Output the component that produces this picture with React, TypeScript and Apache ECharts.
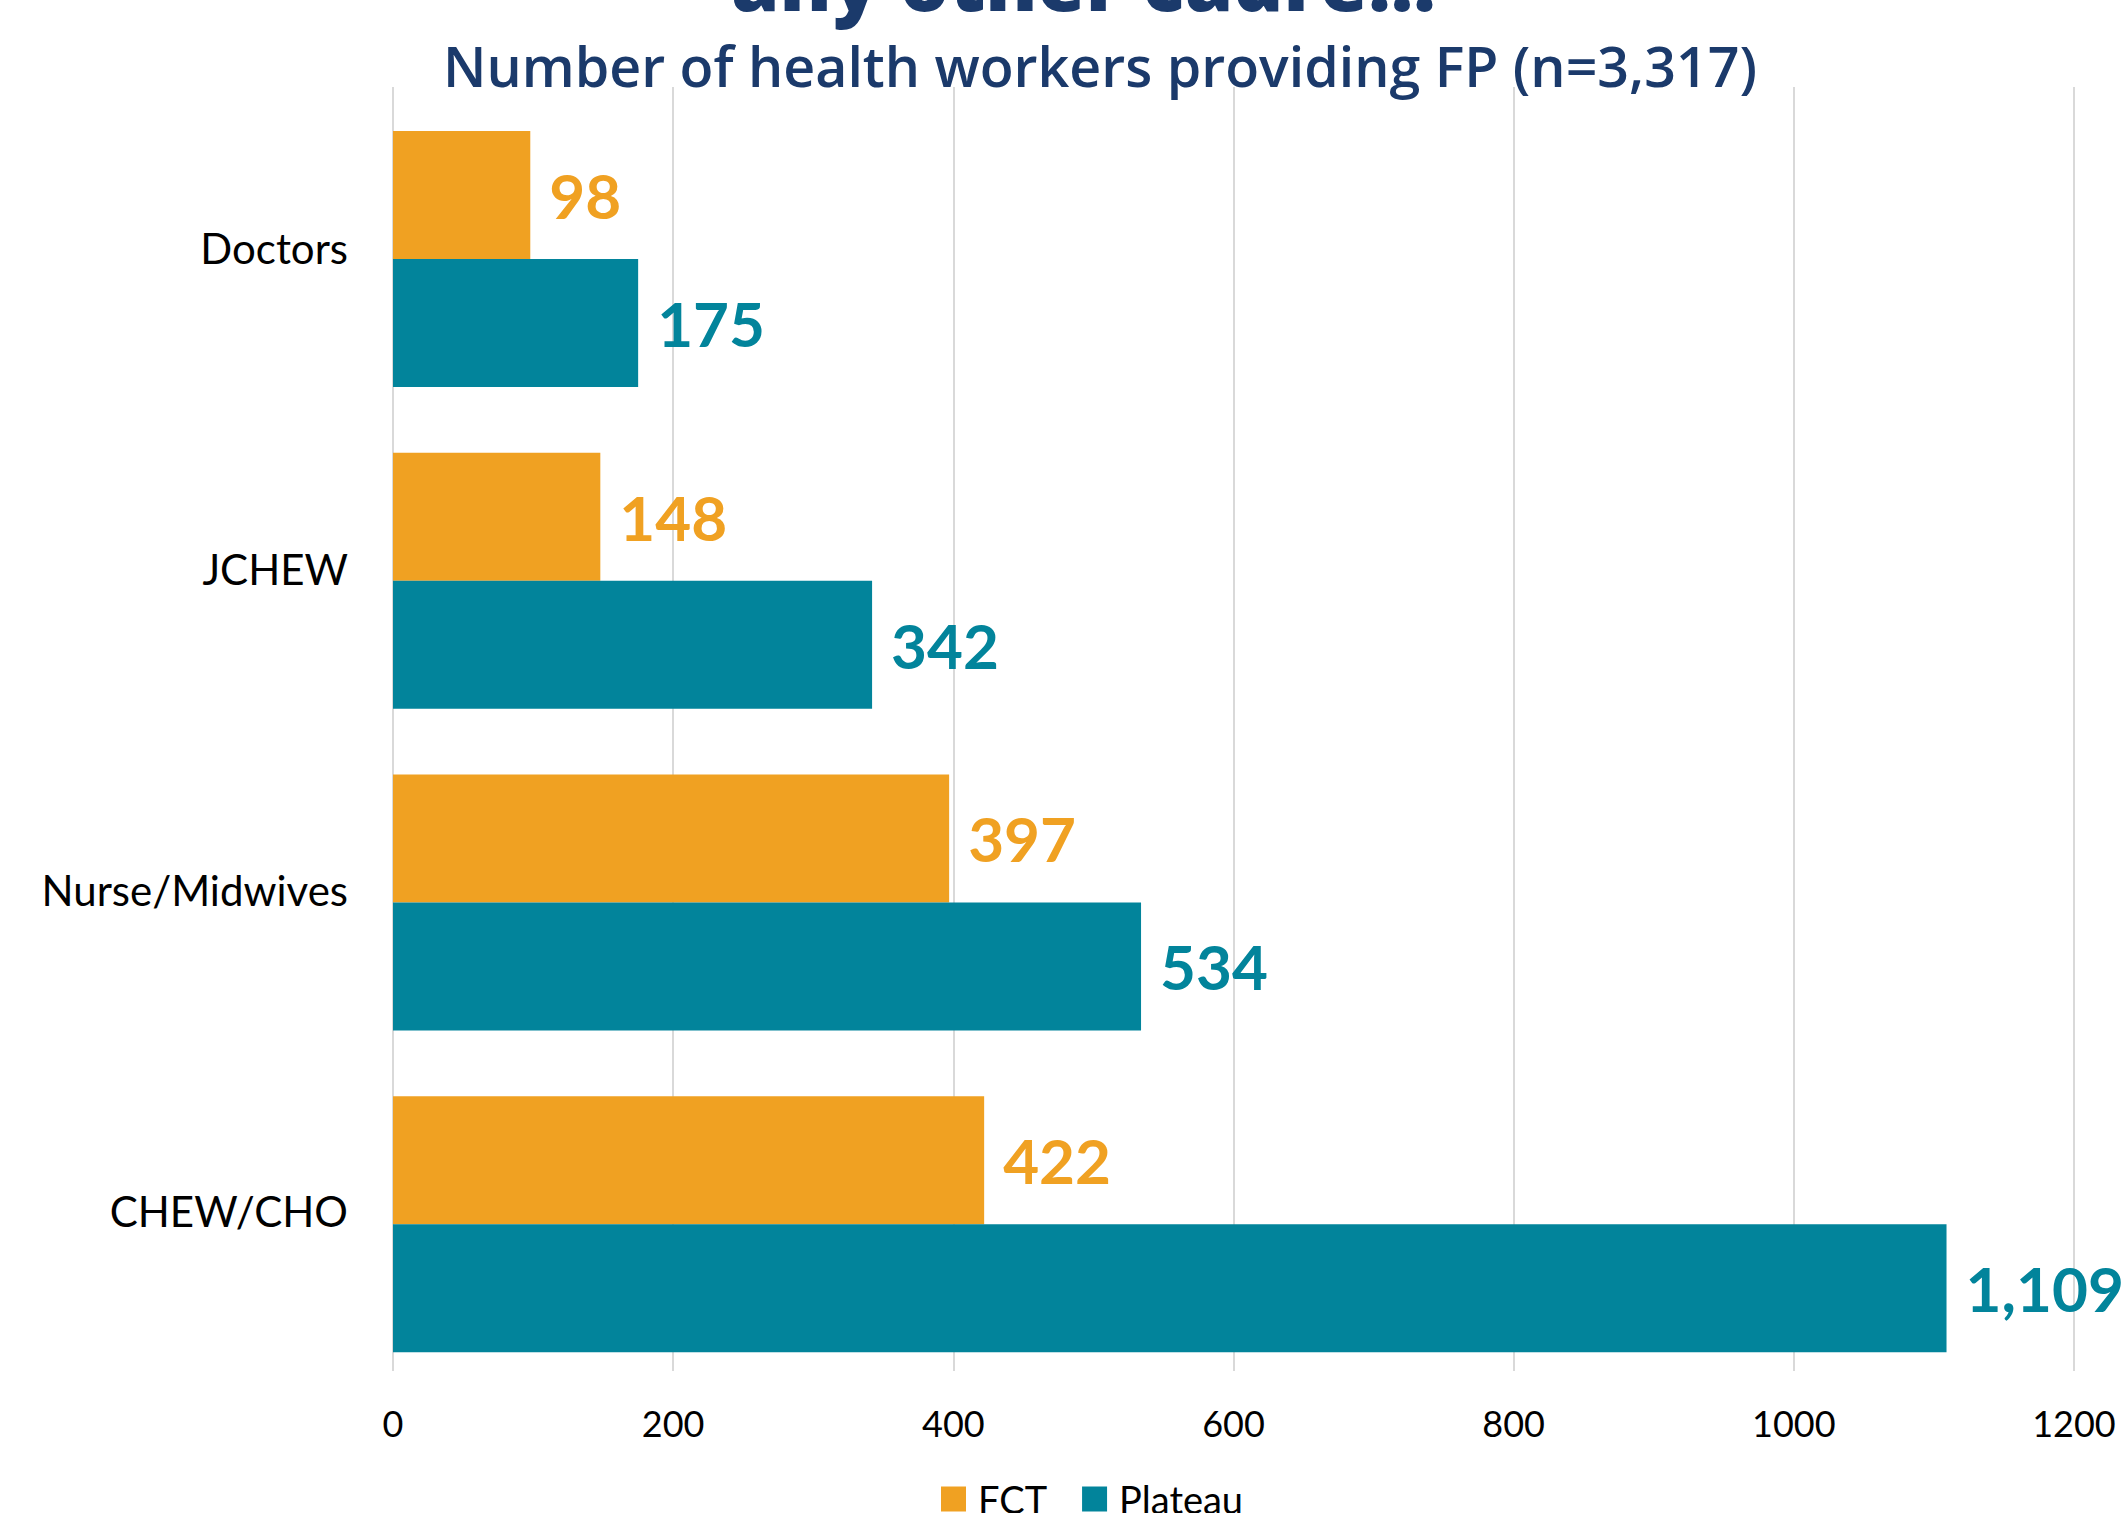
import React, { useEffect, useRef } from "react";
import * as echarts from "echarts";

const categories = ["Doctors", "JCHEW", "Nurse/Midwives", "CHEW/CHO"];
const fctValues = [98, 148, 397, 422];
const plateauValues = [175, 342, 534, 1109];
const xTicks = [0, 200, 400, 600, 800, 1000, 1200];
const seriesNames = ["FCT", "Plateau"];
const titleText = "any other cadre...";
const subtitleText = "Number of health workers providing FP (n=3,317)";

const ORANGE = "#F0A122";
const TEAL = "#02849B";
const NAVY = "#1B3A6B";
const LABEL_FONT = "Lato, 'Open Sans', sans-serif";

export default function App() {
  const ref = useRef<HTMLDivElement>(null);
  useEffect(() => {
    if (!ref.current) return;
    const chart = echarts.init(ref.current, undefined, { renderer: "svg" });
    const fmt = (p: any) => Number(p.value).toLocaleString("en-US");
    chart.setOption({
      animation: false,
      backgroundColor: "#ffffff",
      graphic: [
        {
          type: "text",
          left: 731,
          top: -58,
          style: {
            text: titleText,
            font: "800 78px 'Open Sans', 'Noto Sans', sans-serif",
            fill: NAVY,
          },
        },
        {
          type: "text",
          left: 443,
          top: 37,
          style: {
            text: subtitleText,
            font: "600 55.5px 'Open Sans', 'Noto Sans', sans-serif",
            fill: NAVY,
          },
        },
      ],
      legend: {
        data: seriesNames,
        left: 941,
        top: 1480,
        padding: 0,
        itemWidth: 25,
        itemHeight: 25,
        itemGap: 35,
        icon: "rect",
        textStyle: {
          fontFamily: LABEL_FONT,
          fontSize: 38,
          color: "#000",
          padding: [0, 0, 0, 7],
        },
      },
      grid: [
        { left: 393, right: 50, top: 98, bottom: 128 },
        { left: 393, right: 50, top: 87, bottom: 142 },
      ],
      xAxis: [
        {
          gridIndex: 0,
          type: "value",
          min: 0,
          max: 1200,
          interval: 200,
          axisLabel: { show: false },
          axisLine: { show: false },
          axisTick: { show: false },
          splitLine: { show: false },
        },
        {
          gridIndex: 1,
          type: "value",
          min: xTicks[0],
          max: xTicks[xTicks.length - 1],
          interval: 200,
          axisLabel: {
            show: true,
            fontFamily: LABEL_FONT,
            fontSize: 36,
            color: "#000",
            margin: 34,
            formatter: (v: number) => String(v),
          },
          axisLine: { show: false },
          axisTick: { show: false },
          splitLine: { show: true, lineStyle: { color: "#D9D9D9", width: 2 } },
        },
      ],
      yAxis: [
        {
          gridIndex: 0,
          type: "category",
          data: categories,
          inverse: true,
          axisLabel: { show: false },
          axisLine: { show: false },
          axisTick: { show: false },
        },
        {
          gridIndex: 1,
          type: "category",
          data: categories,
          inverse: true,
          axisLabel: {
            fontFamily: LABEL_FONT,
            fontSize: 42,
            color: "#000",
            margin: 45,
          },
          axisLine: { show: false },
          axisTick: { show: false },
        },
      ],
      series: [
        {
          name: seriesNames[0],
          type: "bar",
          xAxisIndex: 0,
          yAxisIndex: 0,
          data: fctValues,
          barWidth: 128,
          barGap: "0%",
          itemStyle: { color: ORANGE },
          label: {
            show: true,
            position: "right",
            distance: 19,
            formatter: fmt,
            fontFamily: LABEL_FONT,
            fontWeight: "bold",
            fontSize: 62,
            color: ORANGE,
          },
        },
        {
          name: seriesNames[1],
          type: "bar",
          xAxisIndex: 0,
          yAxisIndex: 0,
          data: plateauValues,
          barWidth: 128,
          barGap: "0%",
          itemStyle: { color: TEAL },
          label: {
            show: true,
            position: "right",
            distance: 19,
            formatter: fmt,
            fontFamily: LABEL_FONT,
            fontWeight: "bold",
            fontSize: 62,
            color: TEAL,
          },
        },
      ],
    });
    return () => chart.dispose();
  }, []);
  return (
    <div
      ref={ref}
      style={{ position: "absolute", left: 0, top: 0, width: 2124, height: 1513 }}
    />
  );
}
